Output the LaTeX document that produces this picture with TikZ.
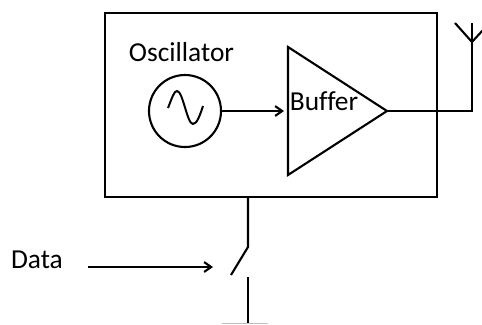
\documentclass[tikz,border=0pt]{standalone}
\usepackage{fontspec}
\setmainfont{Carlito}[Ligatures=NoCommon]
\usetikzlibrary{arrows.meta,positioning,calc}
\tikzset{
  wire/.style={line width=1.5pt, black},
  sigarrow/.style={wire, -{Straight Barb[length=5pt,width=7pt,line width=1.5pt]}},
  lbl/.style={font=\fontsize{19.5}{22}\selectfont, inner sep=0pt}
}

\begin{document}
\begin{tikzpicture}[x=0.025cm, y=-0.025cm]
  \useasboundingbox (0,0) rectangle (482,324);

  % Transmitter box with oscillator and buffer
  \node[draw, wire, minimum width=8.3cm, minimum height=4.6cm, inner sep=0pt] (txbox) at (271,105) {};
  \node[lbl] (osclabel) at (181.5,52) {Oscillator};
  \node[draw, wire, circle, minimum size=1.8cm, inner sep=0pt] (osc) at (185,111) {};
  \draw[line width=1.4pt] (168,108) .. controls (172,98) and (174,91) .. (177,91)
    .. controls (183,91) and (187,124) .. (193,124) .. controls (197,124) and (200,115) .. (203,106);

  % Buffer triangle
  \coordinate (buftop) at (288,47);
  \coordinate (bufbot) at (288,175);
  \coordinate (bufout) at (387,111);
  \coordinate (bufin) at (284,111);
  \draw[wire, line join=miter] (buftop) -- (bufout) -- (bufbot) -- cycle;
  \node[lbl] (buflabel) at (324,101) {Buf{}fer};
  \draw[sigarrow] (osc.east) -- (bufin);

  % Antenna
  \coordinate (anttip) at (472,42);
  \draw[wire] (bufout) -| (anttip);
  \draw[wire] (455,23) -- (anttip) -- (483,30);
  \draw[wire] (anttip) -- (472,23);

  % Switch and data input
  \coordinate (swtop) at (248,197);
  \coordinate (swhinge) at (248,247);
  \coordinate (swarm) at (231,275);
  \coordinate (swcontact) at (248,277);
  \coordinate (swbot) at (248,323);
  \draw[wire] (swtop) -- (swhinge) -- (swarm);
  \draw[wire] (swcontact) -- (swbot);
  \draw[gray!50, line width=0.8pt] (222,323.5) -- (268,323.5);

  \node[lbl] (datalabel) at (37,260) {Data};
  \coordinate (datastart) at (88,267);
  \coordinate (dataend) at (213,267);
  \draw[sigarrow] (datastart) -- (dataend);
\end{tikzpicture}
\end{document}
